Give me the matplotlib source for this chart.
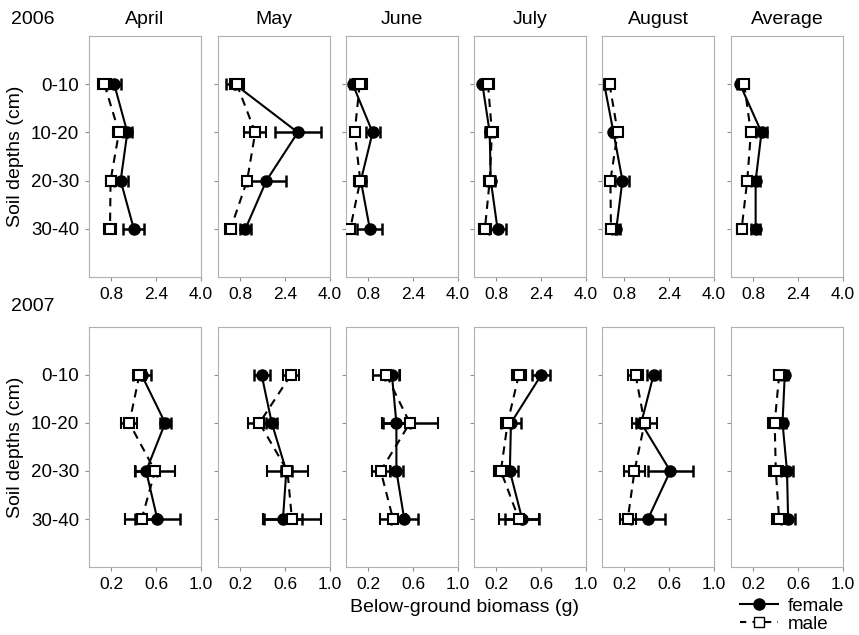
import numpy as np
import matplotlib.pyplot as plt
from matplotlib.lines import Line2D

plt.rcParams['font.family'] = ['Liberation Sans', 'DejaVu Sans']

months = ["April", "May", "June", "July", "August", "Average"]
depths = ["0-10", "10-20", "20-30", "30-40"]

# 2006 values (g), one row per panel, one column per depth
f06 = [[0.90, 1.37, 1.13, 1.60],
       [0.60, 2.85, 1.73, 0.98],
       [0.24, 0.95, 0.53, 0.85],
       [0.30, 0.56, 0.60, 0.84],
       [0.08, 0.41, 0.73, 0.51],
       [0.32, 1.09, 0.88, 0.88]]
f06_err = [[0.25, 0.15, 0.25, 0.37],
           [0.30, 0.83, 0.70, 0.20],
           [0.10, 0.25, 0.20, 0.45],
           [0.10, 0.15, 0.15, 0.30],
           [0.10, 0.10, 0.25, 0.15],
           [0.10, 0.20, 0.15, 0.15]]
m06 = [[0.55, 1.07, 0.77, 0.75],
       [0.67, 1.33, 1.04, 0.45],
       [0.49, 0.31, 0.51, 0.15],
       [0.50, 0.64, 0.56, 0.39],
       [0.27, 0.56, 0.30, 0.32],
       [0.47, 0.71, 0.58, 0.38]]
m06_err = [[0.22, 0.22, 0.18, 0.20],
           [0.25, 0.40, 0.12, 0.20],
           [0.25, 0.12, 0.22, 0.17],
           [0.20, 0.20, 0.20, 0.20],
           [0.17, 0.17, 0.17, 0.17],
           [0.17, 0.17, 0.17, 0.17]]

# 2007 values (g)
f07 = [[0.47, 0.68, 0.51, 0.61],
       [0.39, 0.48, 0.61, 0.58],
       [0.41, 0.45, 0.45, 0.52],
       [0.60, 0.33, 0.32, 0.43],
       [0.46, 0.35, 0.61, 0.41],
       [0.48, 0.46, 0.50, 0.51]]
f07_err = [[0.08, 0.05, 0.10, 0.20],
           [0.07, 0.05, 0.05, 0.17],
           [0.06, 0.12, 0.06, 0.12],
           [0.08, 0.09, 0.07, 0.15],
           [0.06, 0.05, 0.20, 0.15],
           [0.03, 0.03, 0.05, 0.06]]
m07 = [[0.45, 0.36, 0.59, 0.47],
       [0.65, 0.37, 0.62, 0.66],
       [0.36, 0.57, 0.31, 0.42],
       [0.40, 0.30, 0.24, 0.40],
       [0.30, 0.38, 0.29, 0.23],
       [0.43, 0.39, 0.40, 0.43]]
m07_err = [[0.06, 0.07, 0.18, 0.15],
           [0.07, 0.10, 0.18, 0.26],
           [0.12, 0.25, 0.08, 0.12],
           [0.06, 0.06, 0.06, 0.18],
           [0.07, 0.11, 0.09, 0.07],
           [0.05, 0.06, 0.06, 0.06]]

fig = plt.figure(figsize=(8.59, 6.35), dpi=100)
W, H = 859, 635
lefts = [89, 218, 346, 474, 602, 731]
pw = 112
rows = [(36, 277), (327, 567)]
ypos = np.arange(len(depths))

def panel(ax, f, fe, m, me, xmax, ticks, first):
    ax.errorbar(f, ypos, xerr=fe, fmt='-o', color='black', mfc='black',
                ms=8, lw=1.5, elinewidth=1.8, capsize=4, capthick=1.8,
                zorder=2)
    ax.errorbar(m, ypos, xerr=me, fmt='--s', color='black', mfc='white',
                mec='black', ms=6.5, mew=1.5, lw=1.5, elinewidth=1.8,
                capsize=4, capthick=1.8, dashes=(4, 3), zorder=3)
    ax.set_xlim(0, xmax)
    ax.set_ylim(4, -1)
    ax.set_xticks(ticks)
    ax.set_xticklabels([f"{t:.1f}" for t in ticks], fontsize=12.5)
    ax.set_yticks(ypos)
    if first:
        ax.set_yticklabels(depths, fontsize=13.5)
    else:
        ax.set_yticklabels([])
    for s in ax.spines.values():
        s.set_color('#b0b0b0')
    ax.tick_params(axis='both', length=3, color='#909090', pad=4)

for r, (top, bot) in enumerate(rows):
    for i in range(6):
        ax = fig.add_axes([lefts[i] / W, 1 - bot / H, pw / W, (bot - top) / H])
        if r == 0:
            panel(ax, f06[i], f06_err[i], m06[i], m06_err[i], 4.0,
                  [0.8, 2.4, 4.0], i == 0)
            ax.set_title(months[i], fontsize=14, pad=9)
        else:
            panel(ax, f07[i], f07_err[i], m07[i], m07_err[i], 1.0,
                  [0.2, 0.6, 1.0], i == 0)
        if i == 0:
            ax.set_ylabel("Soil depths (cm)", fontsize=14, labelpad=5)

fig.text(11 / W, 1 - 20 / H, "2006", fontsize=14, va='center')
fig.text(11 / W, 1 - 306 / H, "2007", fontsize=14, va='center')
fig.text(465 / W, 1 - 607 / H, "Below-ground biomass (g)", fontsize=14,
         ha='center', va='center')

handles = [Line2D([], [], color='black', marker='o', ms=8, lw=1.5),
           Line2D([], [], color='black', marker='s', mfc='white', ms=7,
                  lw=1.5, ls='--', dashes=(3, 3))]
fig.legend(handles, ["female", "male"], loc='center',
           bbox_to_anchor=(792 / W, 1 - 615 / H), frameon=False,
           fontsize=13.5, handlelength=2.0, handletextpad=0.5,
           labelspacing=0.05, borderpad=0)

fig.savefig("out.png", dpi=100)
